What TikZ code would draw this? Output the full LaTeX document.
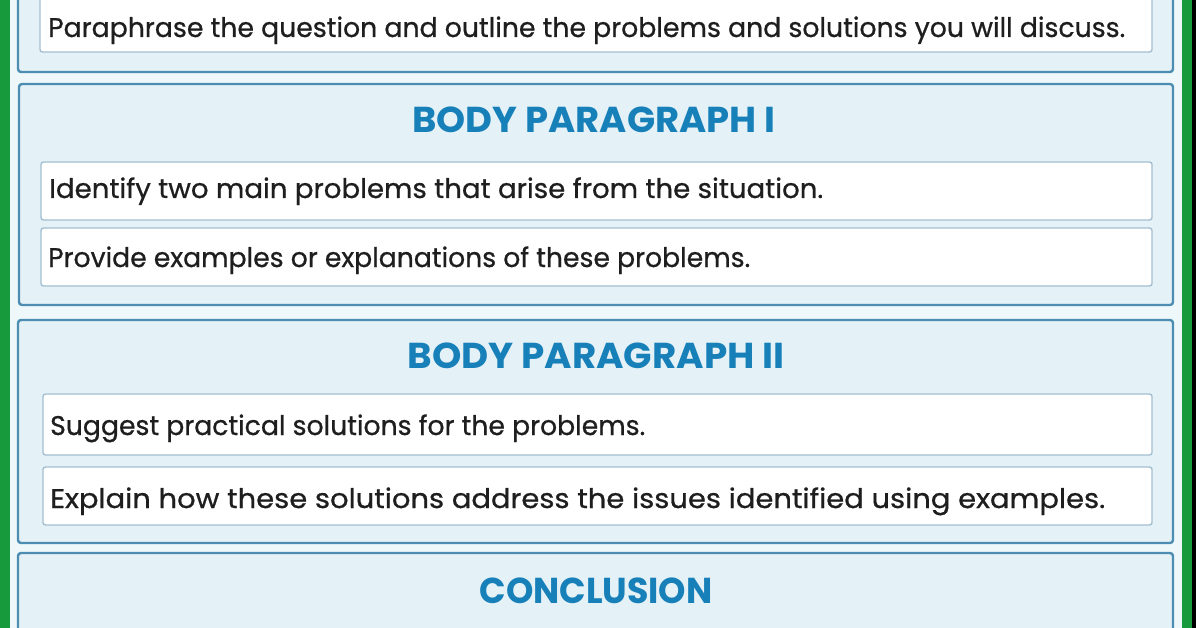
\documentclass[tikz,border=0pt]{standalone}
\usepackage{fontspec}
\setmainfont{Poppins}
\newfontfamily\bodyfont[FakeBold=0.7]{Poppins}
\usepackage{graphicx}
\definecolor{bgcol}{HTML}{EEF8FB}
\definecolor{greenbar}{HTML}{169A3C}
\definecolor{panelfill}{HTML}{E4F1F7}
\definecolor{panelborder}{HTML}{4E8DB2}
\definecolor{boxborder}{HTML}{A3C0D0}
\definecolor{headblue}{HTML}{1780B8}
\definecolor{bodytext}{HTML}{1E1E1E}
\newcommand\fitw[2]{\resizebox{#1}{\height}{#2}}
\begin{document}
\begin{tikzpicture}[x=1pt,y=-1pt,
  panel/.style={draw=panelborder, line width=2.4pt, fill=panelfill, rounded corners=3pt},
  tbox/.style={draw=boxborder, line width=1.4pt, fill=white, rounded corners=2.5pt},
  bodytxt/.style={anchor=base west, inner sep=0pt, text=bodytext, font=\bodyfont\fontsize{27}{30}\selectfont},
  headtxt/.style={anchor=base, inner sep=0pt, text=headblue, font=\bfseries\fontsize{36}{40}\selectfont}]
\useasboundingbox (0,0) rectangle (1196,628);
\clip (0,0) rectangle (1196,628);
\fill[bgcol] (0,0) rectangle (1196,628);
\fill[greenbar] (0,0) rectangle (10,628);
\fill[greenbar] (1182,0) rectangle (1192,628);
\fill[black] (1192,0) rectangle (1196,628);
% panels
\draw[panel] (18,-20) rectangle (1173,72);
\draw[panel] (19,84) rectangle (1173,305);
\draw[panel] (18,320) rectangle (1173,543);
\draw[panel] (18,553) rectangle (1173,660);
% white boxes
\draw[tbox] (40,-6) rectangle (1152,52);
\draw[tbox] (41,162) rectangle (1152,220);
\draw[tbox] (41,228) rectangle (1152,286);
\draw[tbox] (43,394) rectangle (1152,455);
\draw[tbox] (43,467) rectangle (1152,525);
% texts
\node[bodytxt] (t0) at (48,37) {\fitw{1077pt}{Paraphrase the question and outline the problems and solutions you will discuss.}};
\node[headtxt] (h1) at (594,133) {\fitw{363pt}{BODY PARAGRAPH I}};
\node[bodytxt] (t1) at (49,198) {\fitw{774pt}{Identify two main problems that arise from the situation.}};
\node[bodytxt] (t2) at (48,267) {\fitw{702pt}{Provide examples or explanations of these problems.}};
\node[headtxt] (h2) at (596,368) {\fitw{377pt}{BODY PARAGRAPH II}};
\node[bodytxt] (t3) at (50,435) {\fitw{595pt}{Suggest practical solutions for the problems.}};
\node[bodytxt] (t4) at (50,508) {\fitw{1055pt}{Explain how these solutions address the issues identified using examples.}};
\node[headtxt] (h3) at (596,603) {\fitw{233pt}{CONCLUSION}};
\end{tikzpicture}
\end{document}
